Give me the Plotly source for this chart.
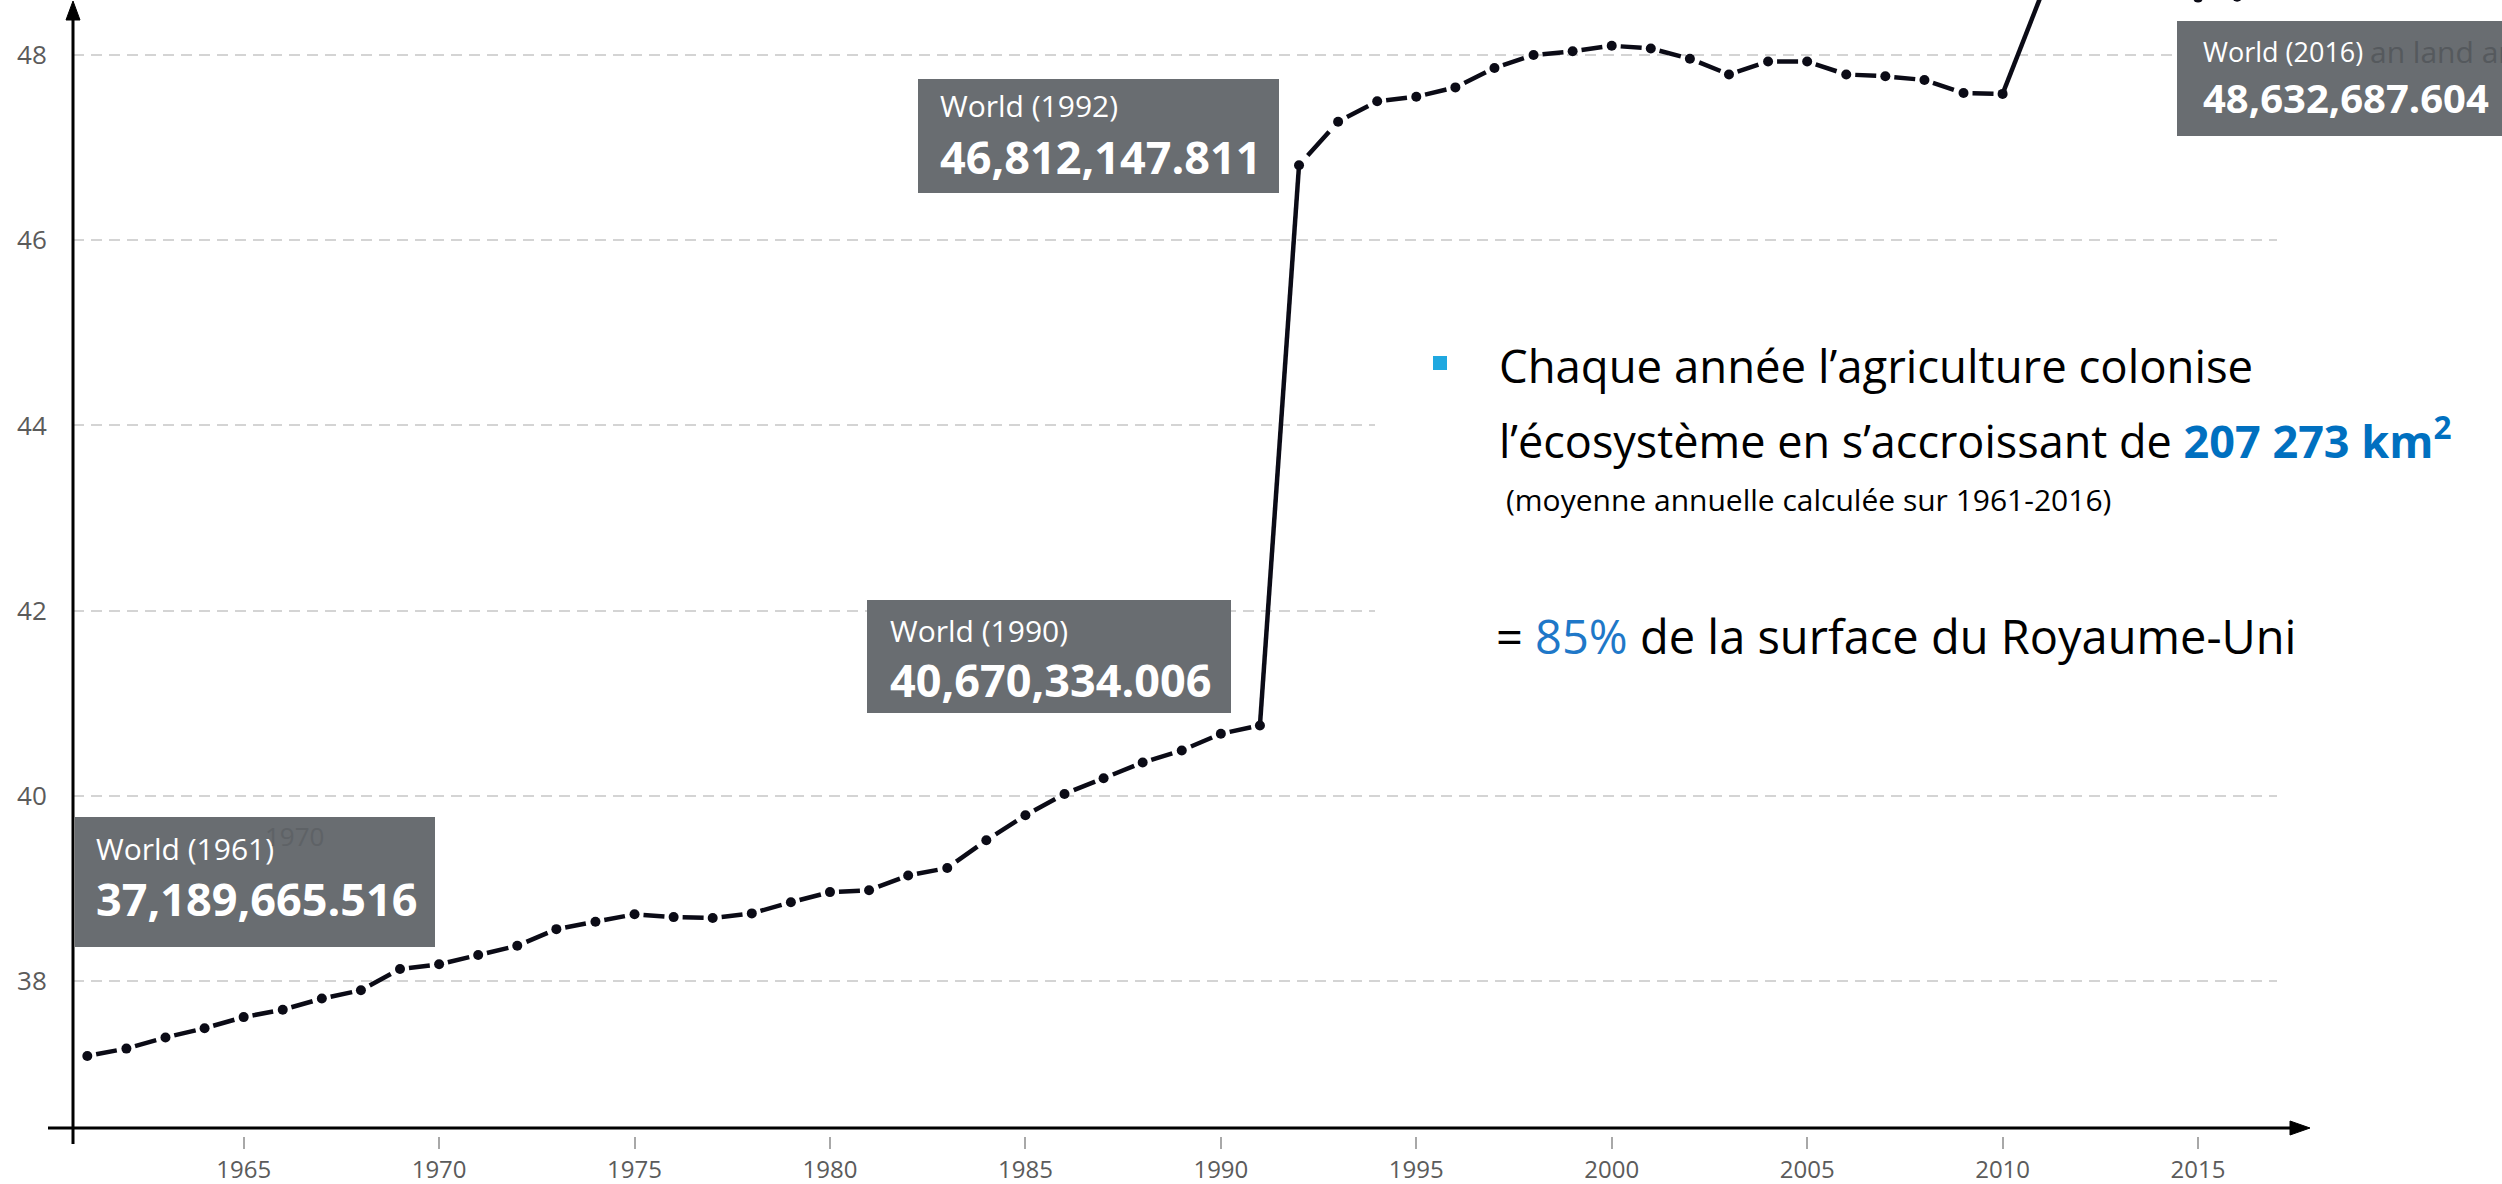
import math
import plotly.graph_objects as go

# ---------------- data ----------------
years = list(range(1961, 2017))
# World agricultural land, million km2
agri_land_mkm2 = [37.19, 37.27, 37.39, 37.49, 37.61, 37.69, 37.81, 37.90, 38.13, 38.18,
                  38.28, 38.38, 38.56, 38.64, 38.72, 38.69, 38.68, 38.73, 38.85, 38.96,
                  38.98, 39.14, 39.22, 39.52, 39.79, 40.02, 40.19, 40.36, 40.49, 40.67,
                  40.76, 46.81, 47.28, 47.50, 47.55, 47.65, 47.86, 48.00, 48.04, 48.10,
                  48.07, 47.96, 47.79, 47.93, 47.93, 47.79, 47.77, 47.73, 47.59, 47.58,
                  48.66, 48.72, 48.75, 48.70, 48.62, 48.63]
solid_segment_end_years = [1992, 2011]

x_tick_vals = [1965, 1970, 1975, 1980, 1985, 1990, 1995, 2000, 2005, 2010, 2015]
y_tick_vals = [38, 40, 42, 44, 46, 48]

tooltip_years = [1961, 1990, 1992, 2016]
tooltip_values_km2 = ["37,189,665.516", "40,670,334.006", "46,812,147.811", "48,632,687.604"]

text_line1 = "Chaque année l’agriculture colonise"
text_line2_a = "l’écosystème en s’accroissant de "
text_line2_b = "207 273 km"
text_line3 = "(moyenne annuelle calculée sur 1961-2016)"
text_line4_a = "= "
text_line4_b = "85%"
text_line4_c = " de la surface du Royaume-Uni"

# ---------------- geometry / style ----------------
W, H = 2502, 1184
PL, PR, PT, PB = 73, 2277, 0, 1136
X_RANGE = [1960.634, 2017.02]
Y_RANGE = [36.326, 48.594]
PX_PER_YEAR = (PR - PL) / (X_RANGE[1] - X_RANGE[0])
PX_PER_UNIT = (PB - PT) / (Y_RANGE[1] - Y_RANGE[0])

LINE_COLOR = "#0b0b16"
BOX_COLOR = "#696d71"
BLUE_BOLD = "#0070C0"
BLUE = "#1f78c8"
FONT = "Open Sans"


def px_x(px):
    return (px - PL) / (PR - PL)


def px_y(py):
    return (PB - py) / (PB - PT)


fig = go.Figure()

# line segments (dash pattern scaled to each segment)
for i in range(len(years) - 1):
    x0, x1 = years[i], years[i + 1]
    y0, y1 = agri_land_mkm2[i], agri_land_mkm2[i + 1]
    L = math.hypot((x1 - x0) * PX_PER_YEAR, (y1 - y0) * PX_PER_UNIT)
    if x1 in solid_segment_end_years:
        dash = "solid"
    else:
        g = round(0.23 * L)
        d = round(0.54 * L)
        dash = f"0px,{g}px,{d}px,{g + 3}px"
    fig.add_trace(go.Scatter(x=[x0, x1], y=[y0, y1], mode="lines",
                             line=dict(color=LINE_COLOR, width=4.5, dash=dash),
                             hoverinfo="skip", showlegend=False))

fig.add_trace(go.Scatter(x=years, y=agri_land_mkm2, mode="markers",
                         marker=dict(size=10, color=LINE_COLOR),
                         hoverinfo="skip", showlegend=False))

shapes = []
annotations = []

# white cover behind the right text
shapes.append(dict(type="rect", xref="paper", yref="paper",
                   x0=px_x(1375), x1=px_x(2502), y0=px_y(700), y1=px_y(280),
                   fillcolor="white", line=dict(width=0), layer="above"))

# tooltip boxes: (left, top, right, bottom, label center y, value center y, text x, label size, value size)
box_geom = [
    (75, 817, 435, 947, 848, 898, 94, 30, 45),
    (867, 600, 1231, 713, 630, 679, 888, 30, 45),
    (918, 79, 1279, 193, 105, 156, 938, 30, 45),
    (2177, 21, 2530, 136, 51, 97, 2201, 27, 40),
]
for (l, t, r, b, ly, vy, tx, ls, vs), yr, val in zip(box_geom, tooltip_years, tooltip_values_km2):
    shapes.append(dict(type="rect", xref="paper", yref="paper",
                       x0=px_x(l), x1=px_x(r), y0=px_y(b), y1=px_y(t),
                       fillcolor=BOX_COLOR, line=dict(width=0), layer="above"))
    annotations.append(dict(xref="paper", yref="paper", x=px_x(tx), y=px_y(ly),
                            xanchor="left", yanchor="middle", showarrow=False,
                            text=f"World ({yr})",
                            font=dict(family=FONT, size=ls, color="white")))
    annotations.append(dict(xref="paper", yref="paper", x=px_x(tx), y=px_y(vy),
                            xanchor="left", yanchor="middle", showarrow=False,
                            text=f"<b>{val}</b>",
                            font=dict(family=FONT, size=vs, color="white")))

# faint ghost texts seen through the tooltips
annotations.append(dict(xref="paper", yref="paper", x=px_x(263), y=px_y(836),
                        xanchor="left", yanchor="middle", showarrow=False, text="1970",
                        font=dict(family=FONT, size=26, color="#5e6266")))
annotations.append(dict(xref="paper", yref="paper", x=px_x(2368), y=px_y(51),
                        xanchor="left", yanchor="middle", showarrow=False, text="an land ar",
                        font=dict(family=FONT, size=30, color="#55595d")))

# right-hand text block
shapes.append(dict(type="rect", xref="paper", yref="paper",
                   x0=px_x(1433), x1=px_x(1447), y0=px_y(370), y1=px_y(356),
                   fillcolor="#1fa8e0", line=dict(width=0), layer="above"))
annotations.append(dict(xref="paper", yref="paper", x=px_x(1497), y=px_y(365),
                        xanchor="left", yanchor="middle", showarrow=False, text=text_line1,
                        font=dict(family=FONT, size=45.5, color="black")))
annotations.append(dict(xref="paper", yref="paper", x=px_x(1497), y=px_y(438),
                        xanchor="left", yanchor="middle", showarrow=False,
                        text=(text_line2_a + f"<b><span style='color:{BLUE_BOLD}'>"
                              + text_line2_b + "<sup>2</sup></span></b>"),
                        font=dict(family=FONT, size=45, color="black")))
annotations.append(dict(xref="paper", yref="paper", x=px_x(1504), y=px_y(500),
                        xanchor="left", yanchor="middle", showarrow=False, text=text_line3,
                        font=dict(family=FONT, size=30, color="black")))
annotations.append(dict(xref="paper", yref="paper", x=px_x(1494), y=px_y(636),
                        xanchor="left", yanchor="middle", showarrow=False,
                        text=(text_line4_a + f"<span style='color:{BLUE}'>" + text_line4_b
                              + "</span>" + text_line4_c),
                        font=dict(family=FONT, size=47, color="black")))

# axis arrows (lines + arrowheads)
AX_Y = 1128
shapes.append(dict(type="line", xref="paper", yref="paper",
                   x0=px_x(73), x1=px_x(73), y0=px_y(1144), y1=px_y(16),
                   line=dict(color="black", width=3), layer="above"))
shapes.append(dict(type="path", xref="paper", yref="paper",
                   path=(f"M {px_x(66)} {px_y(20)} L {px_x(73)} {px_y(1)} "
                         f"L {px_x(80)} {px_y(20)} Z"),
                   fillcolor="black", line=dict(color="black", width=1), layer="above"))
shapes.append(dict(type="line", xref="paper", yref="paper",
                   x0=px_x(48), x1=px_x(2294), y0=px_y(AX_Y), y1=px_y(AX_Y),
                   line=dict(color="black", width=3), layer="above"))
shapes.append(dict(type="path", xref="paper", yref="paper",
                   path=(f"M {px_x(2290)} {px_y(AX_Y - 7)} L {px_x(2310)} {px_y(AX_Y)} "
                         f"L {px_x(2290)} {px_y(AX_Y + 7)} Z"),
                   fillcolor="black", line=dict(color="black", width=1), layer="above"))

fig.update_layout(
    width=W, height=H,
    margin=dict(l=PL, r=W - PR, t=PT, b=H - PB, pad=0),
    paper_bgcolor="white", plot_bgcolor="white",
    showlegend=False,
    shapes=shapes, annotations=annotations,
    xaxis=dict(range=X_RANGE, tickvals=x_tick_vals, showgrid=False, zeroline=False,
               showline=False, ticks="outside", ticklen=12, tickwidth=1.5, tickcolor="#a8a8a8",
               tickfont=dict(family=FONT, size=24, color="#5b5b5b"), automargin=False,
               fixedrange=True),
    yaxis=dict(range=Y_RANGE, tickvals=y_tick_vals, showgrid=True, gridcolor="#d4d4d4",
               gridwidth=2, griddash="11px,7px", zeroline=False, showline=False,
               ticks="outside", ticklen=20, tickcolor="rgba(0,0,0,0)",
               tickfont=dict(family=FONT, size=26, color="#5b5b5b"), automargin=False,
               fixedrange=True),
)

fig.write_html("out.html", config={"displayModeBar": False},
               post_script="document.body.style.margin='0';document.body.style.overflow='hidden';")
